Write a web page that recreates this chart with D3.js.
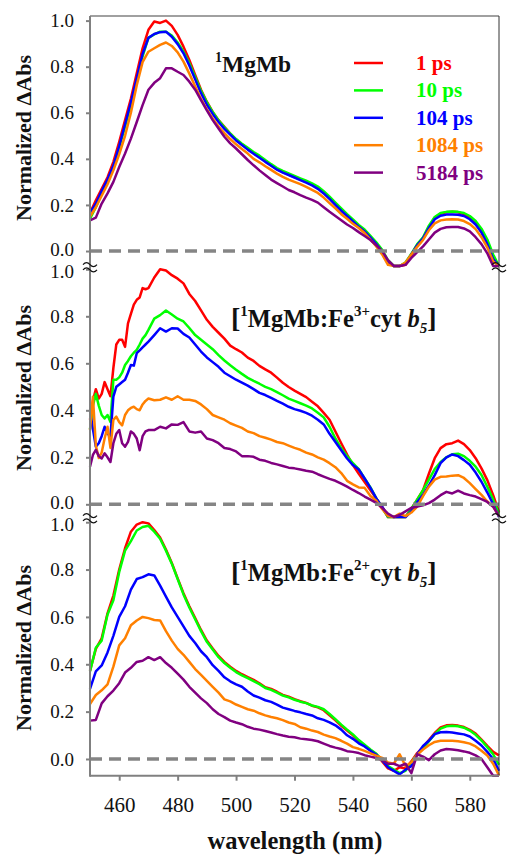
<!DOCTYPE html>
<html><head><meta charset="utf-8">
<script src="https://cdn.jsdelivr.net/npm/d3@7"></script>
<style>body{margin:0;background:#fff}svg{display:block}</style>
</head><body><svg id="c" width="508" height="857"></svg>
<script>
// ---------- data ----------
const times = ["1 ps","10 ps","104 ps","1084 ps","5184 ps"];
const colors = ["#ff0000","#00ff00","#0000ff","#ff8000","#800080"];
const xTicks = [460,480,500,520,540,560,580];
const yTicks = [0,0.2,0.4,0.6,0.8,1.0];

const wlA = [450,452,454,456,458,460,462,464,466,468,470,472,474,476,478,480,482,484,486,488,490,492,494,496,498,500,502,504,506,508,510,512,514,516,518,520,522,524,526,528,530,532,534,536,538,540,542,544,546,548,550,552,554,556,558,560,562,564,566,568,570,572,574,576,578,580,582,584,586,588,590];
const wlB = [450,451,452,453,454,455,456,457,458,459,460,461,462,463,464,465,466,467,468,469,470,472,474,476,478,480,482,484,486,488,490,492,494,496,498,500,502,504,506,508,510,512,514,516,518,520,522,524,526,528,530,532,534,536,538,540,542,544,546,548,550,552,554,556,558,560,562,564,566,568,570,572,574,576,578,580,582,584,586,588,590];

// Panel 1: 1MgMb
const r1 = [0.165,0.22,0.27,0.32,0.387,0.474,0.568,0.662,0.771,0.88,
0.96,0.996,0.99,1.0,0.977,0.938,0.887,0.829,0.764,0.70,
0.648,0.604,0.568,0.539,0.51,0.484,0.463,0.445,0.425,0.41,
0.39,0.372,0.355,0.343,0.332,0.321,0.31,0.30,0.288,0.273,
0.252,0.228,0.202,0.177,0.153,0.13,0.105,0.085,0.058,0.03,
-0.005,-0.05,-0.09,-0.09,-0.06,-0.02,0.025,0.055,0.105,0.145,
0.162,0.168,0.17,0.168,0.16,0.145,0.12,0.085,0.035,-0.03,
-0.09];
const g1 = [0.14,0.19,0.25,0.30,0.365,0.45,0.54,0.635,0.74,0.845,
0.925,0.94,0.952,0.952,0.935,0.905,0.865,0.815,0.755,0.695,
0.645,0.603,0.567,0.537,0.51,0.486,0.466,0.448,0.43,0.414,
0.395,0.377,0.36,0.348,0.337,0.326,0.315,0.305,0.294,0.28,
0.26,0.236,0.21,0.185,0.16,0.137,0.113,0.093,0.066,0.038,
0.005,-0.04,-0.09,-0.09,-0.05,-0.012,0.03,0.06,0.11,0.148,
0.165,0.17,0.171,0.17,0.165,0.152,0.13,0.097,0.05,-0.015,
-0.08];
const b1 = [0.165,0.205,0.26,0.31,0.37,0.455,0.55,0.645,0.75,0.855,
0.925,0.942,0.95,0.952,0.93,0.898,0.858,0.805,0.745,0.685,
0.635,0.595,0.56,0.53,0.505,0.48,0.46,0.44,0.422,0.405,
0.387,0.37,0.353,0.34,0.33,0.319,0.308,0.297,0.285,0.27,
0.25,0.226,0.2,0.175,0.152,0.128,0.105,0.085,0.058,0.03,
-0.003,-0.045,-0.09,-0.09,-0.055,-0.015,0.025,0.055,0.1,0.138,
0.153,0.158,0.158,0.157,0.152,0.138,0.115,0.08,0.03,-0.035,
-0.09];
const o1 = [0.15,0.19,0.24,0.29,0.35,0.42,0.50,0.60,0.72,0.82,
0.865,0.88,0.895,0.905,0.89,0.862,0.822,0.77,0.715,0.66,
0.615,0.575,0.54,0.512,0.486,0.463,0.443,0.423,0.40,0.385,
0.368,0.352,0.336,0.322,0.31,0.3,0.29,0.278,0.265,0.252,
0.232,0.208,0.185,0.16,0.14,0.118,0.1,0.078,0.05,0.02,
-0.015,-0.06,-0.09,-0.09,-0.05,-0.015,0.018,0.048,0.09,0.12,
0.133,0.137,0.138,0.137,0.13,0.117,0.095,0.06,0.015,-0.045,
-0.09];
const p1 = [0.133,0.145,0.206,0.25,0.30,0.365,0.423,0.488,0.56,0.633,
0.70,0.73,0.75,0.793,0.793,0.778,0.764,0.735,0.70,0.655,
0.61,0.568,0.532,0.496,0.467,0.445,0.42,0.395,0.372,0.35,
0.33,0.31,0.295,0.28,0.265,0.255,0.243,0.232,0.222,0.21,
0.19,0.17,0.152,0.134,0.115,0.1,0.082,0.065,0.048,0.025,
0.0,-0.04,-0.09,-0.09,-0.06,-0.03,-0.005,0.02,0.05,0.08,
0.096,0.103,0.104,0.104,0.098,0.085,0.06,0.03,-0.01,-0.07,
-0.09];

// Panel 2: [1MgMb:Fe3+cyt b5]
const r2 = [0.36,0.44,0.49,0.45,0.47,0.52,0.49,0.46,0.58,0.68,0.70,0.70,0.67,0.77,0.81,0.85,0.87,0.88,0.92,0.915,0.92,
0.965,1.0,0.995,0.975,0.96,0.94,0.895,0.865,0.825,0.785,
0.755,0.73,0.705,0.675,0.66,0.646,0.624,0.61,0.589,0.574,
0.56,0.539,0.517,0.499,0.484,0.47,0.456,0.436,0.417,0.389,
0.36,0.31,0.26,0.212,0.167,0.13,0.095,0.06,0.025,-0.011,
-0.054,-0.09,-0.09,-0.06,-0.019,0.02,0.06,0.13,0.196,0.239,
0.256,0.26,0.271,0.256,0.231,0.196,0.153,0.103,0.039,-0.033];
const g2 = [0.32,0.42,0.47,0.42,0.38,0.365,0.38,0.35,0.53,0.53,0.54,0.56,0.593,0.61,0.63,0.645,0.657,0.68,0.705,0.72,0.742,
0.79,0.805,0.825,0.808,0.79,0.778,0.75,0.72,0.70,0.68,
0.66,0.635,0.612,0.592,0.573,0.555,0.538,0.525,0.513,0.50,
0.49,0.477,0.464,0.45,0.44,0.43,0.42,0.408,0.39,0.37,
0.33,0.28,0.238,0.205,0.175,0.15,0.11,0.072,0.025,-0.015,
-0.06,-0.09,-0.09,-0.06,-0.02,0.02,0.06,0.105,0.15,0.18,
0.2,0.213,0.215,0.205,0.185,0.16,0.125,0.075,0.02,-0.04];
const b2 = [0.40,0.32,0.245,0.26,0.29,0.33,0.30,0.29,0.458,0.50,0.51,0.52,0.53,0.56,0.593,0.59,0.643,0.655,0.668,0.68,0.692,
0.72,0.749,0.735,0.749,0.748,0.725,0.71,0.68,0.65,0.625,
0.605,0.585,0.56,0.545,0.53,0.518,0.505,0.49,0.474,0.465,
0.453,0.44,0.428,0.415,0.405,0.398,0.389,0.377,0.36,0.34,
0.30,0.265,0.23,0.195,0.167,0.148,0.11,0.07,0.025,-0.01,
-0.05,-0.09,-0.09,-0.09,-0.03,0.01,0.04,0.08,0.124,0.175,
0.2,0.212,0.205,0.188,0.168,0.135,0.096,0.05,0.0,-0.06];
const o2 = [0.316,0.458,0.25,0.197,0.22,0.28,0.33,0.24,0.359,0.373,0.35,0.336,0.38,0.40,0.41,0.415,0.405,0.40,0.425,0.44,0.45,
0.443,0.445,0.455,0.445,0.46,0.445,0.445,0.44,0.425,0.405,
0.38,0.37,0.36,0.345,0.335,0.325,0.31,0.303,0.29,0.283,
0.275,0.265,0.26,0.25,0.24,0.232,0.22,0.212,0.2,0.19,
0.175,0.158,0.133,0.10,0.085,0.072,0.07,0.035,0.015,-0.02,
-0.05,-0.06,-0.04,-0.05,-0.035,-0.01,0.035,0.075,0.105,0.117,
0.118,0.122,0.124,0.112,0.09,0.065,0.04,0.012,-0.01,-0.05];
const p2 = [0.16,0.21,0.232,0.205,0.195,0.217,0.2,0.18,0.26,0.30,0.316,0.26,0.245,0.266,0.31,0.30,0.28,0.23,0.29,0.31,0.316,
0.316,0.33,0.323,0.34,0.338,0.35,0.31,0.305,0.31,0.28,
0.273,0.26,0.24,0.235,0.225,0.205,0.205,0.202,0.19,0.185,
0.176,0.17,0.163,0.156,0.153,0.148,0.143,0.139,0.128,0.118,
0.108,0.1,0.088,0.075,0.061,0.048,0.033,0.02,0.006,-0.015,
-0.04,-0.06,-0.045,-0.03,-0.015,-0.01,-0.004,0.005,0.02,0.039,
0.053,0.046,0.058,0.046,0.039,0.033,0.022,0.01,-0.01,-0.05];

// Panel 3: [1MgMb:Fe2+cyt b5]
const r3 = [0.373,0.465,0.51,0.615,0.69,0.80,0.89,0.96,0.99,1.0,
0.995,0.967,0.935,0.885,0.828,0.763,0.70,0.645,0.595,0.545,
0.50,0.467,0.435,0.41,0.39,0.372,0.358,0.346,0.334,0.32,
0.303,0.296,0.284,0.271,0.263,0.253,0.244,0.237,0.225,0.218,
0.206,0.184,0.163,0.14,0.12,0.10,0.076,0.056,0.037,0.02,
-0.01,-0.04,-0.05,-0.035,-0.04,-0.01,0.025,0.05,0.08,0.11,
0.133,0.142,0.144,0.141,0.135,0.123,0.107,0.082,0.055,0.03,
0.015];
const g3 = [0.37,0.47,0.50,0.61,0.67,0.79,0.88,0.92,0.965,0.98,
0.985,0.96,0.93,0.88,0.825,0.76,0.695,0.64,0.59,0.54,
0.495,0.462,0.43,0.405,0.385,0.367,0.353,0.341,0.329,0.316,
0.3,0.292,0.28,0.268,0.26,0.25,0.242,0.236,0.226,0.22,
0.21,0.19,0.168,0.145,0.124,0.104,0.08,0.06,0.04,0.022,
-0.005,-0.03,-0.045,-0.06,-0.05,-0.015,0.02,0.045,0.075,0.105,
0.128,0.138,0.14,0.138,0.132,0.12,0.102,0.078,0.05,0.02,
-0.025];
const b3 = [0.296,0.37,0.395,0.45,0.52,0.60,0.645,0.715,0.76,0.768,
0.78,0.775,0.732,0.686,0.64,0.60,0.56,0.52,0.49,0.455,
0.43,0.396,0.372,0.345,0.328,0.315,0.305,0.285,0.268,0.259,
0.248,0.241,0.23,0.217,0.21,0.203,0.197,0.19,0.184,0.172,
0.165,0.155,0.142,0.124,0.10,0.085,0.066,0.053,0.035,0.018,
-0.005,-0.035,-0.05,-0.065,-0.045,-0.03,0.02,0.055,0.077,0.105,
0.113,0.114,0.112,0.108,0.104,0.095,0.077,0.057,0.03,0.0,
-0.05];
const o3 = [0.232,0.27,0.29,0.315,0.39,0.48,0.51,0.565,0.585,0.6,
0.595,0.587,0.585,0.54,0.50,0.465,0.44,0.41,0.38,0.355,
0.33,0.305,0.28,0.252,0.243,0.23,0.22,0.21,0.204,0.193,
0.184,0.177,0.172,0.164,0.154,0.148,0.134,0.128,0.12,0.114,
0.103,0.095,0.088,0.077,0.065,0.05,0.043,0.034,0.024,0.014,
0.005,-0.015,-0.02,0.02,-0.03,-0.015,0.018,0.04,0.058,0.072,
0.077,0.077,0.077,0.075,0.071,0.065,0.053,0.035,0.015,-0.02,
-0.07];
const p3 = [0.162,0.165,0.235,0.265,0.289,0.32,0.365,0.385,0.41,0.415,
0.43,0.418,0.43,0.405,0.385,0.36,0.335,0.305,0.28,0.256,
0.236,0.21,0.19,0.177,0.162,0.154,0.147,0.136,0.128,0.124,
0.118,0.112,0.105,0.099,0.094,0.092,0.086,0.083,0.08,0.075,
0.065,0.055,0.048,0.042,0.033,0.03,0.025,0.016,0.01,0.004,
-0.005,-0.02,-0.02,-0.03,-0.02,-0.06,0.02,0.01,-0.005,0.02,
0.036,0.042,0.04,0.037,0.032,0.026,0.015,0.0,-0.035,-0.075,
-0.09];

// ---------- font ----------
const FONT = "'Liberation Serif','Times New Roman',serif";

// ---------- layout ----------
const svg = d3.select("#c");
const X0 = 90, X1 = 499, TOP = 16, BOT = 775.7;
const x = d3.scaleLinear().domain([450,590]).range([X0, X1]);

const panels = [
  {wl: wlA, series: [r1,g1,b1,o1,p1], top: 16,  bottom: 266, dom: [-0.065, 1.02], yc: 138},
  {wl: wlB, series: [r2,g2,b2,o2,p2], top: 266, bottom: 517, dom: [-0.054, 1.014], yc: 388},
  {wl: wlA, series: [r3,g3,b3,o3,p3], top: 517, bottom: BOT, dom: [-0.0706, 1.022], yc: 648}
];

panels.forEach((p, pi) => {
  const y = d3.scaleLinear().domain(p.dom).range([p.bottom, p.top]).clamp(true);
  const g = svg.append("g");
  const line = d3.line().x(d => x(d[0])).y(d => y(d[1]));
  p.series.forEach((s, si) => {
    g.append("path")
      .attr("d", line(d3.zip(p.wl, s)))
      .attr("fill", "none")
      .attr("stroke", colors[si])
      .attr("stroke-width", 2.5)
      .attr("stroke-linejoin", "round");
  });
  g.append("line")
    .attr("x1", X0).attr("x2", X1)
    .attr("y1", y(0)).attr("y2", y(0))
    .attr("stroke", "#858585").attr("stroke-width", 3.5)
    .attr("stroke-dasharray", "12,7");
  const ax = svg.append("g").attr("transform", `translate(${X0},0)`)
    .call(d3.axisLeft(y).tickValues(yTicks).tickFormat(d3.format(".1f")).tickSize(4).tickPadding(12));
  ax.select(".domain").remove();
  ax.attr("font-family", FONT).attr("font-size", 19);
  ax.selectAll(".tick line").attr("stroke", "#808080").attr("stroke-width", 2);
  ax.selectAll(".tick text").attr("fill", "#111")
    .attr("dy", d => d === 0 && pi < 2 ? "0.22em" : (d === 1 && pi > 0 ? "0.42em" : "0.32em"));
  svg.append("text")
    .attr("transform", `translate(31,${p.yc}) rotate(-90)`)
    .attr("text-anchor", "middle")
    .attr("font-family", FONT).attr("font-weight", "bold").attr("font-size", 22)
    .attr("fill", "#111")
    .text("Normalized \u0394Abs");
});

// frame
svg.append("line").attr("x1", X0).attr("x2", X1).attr("y1", TOP).attr("y2", TOP)
  .attr("stroke", "#808080").attr("stroke-width", 1.5);
svg.append("line").attr("x1", X1).attr("x2", X1).attr("y1", TOP).attr("y2", BOT)
  .attr("stroke", "#333").attr("stroke-width", 1);
svg.append("line").attr("x1", X0).attr("x2", X0).attr("y1", TOP).attr("y2", BOT + 1)
  .attr("stroke", "#808080").attr("stroke-width", 2);
svg.append("line").attr("x1", X0).attr("x2", X1).attr("y1", BOT).attr("y2", BOT)
  .attr("stroke", "#808080").attr("stroke-width", 2);

// x axis
const xa = svg.append("g").attr("transform", `translate(0,${BOT})`)
  .call(d3.axisBottom(x).tickValues(xTicks).tickSize(5).tickPadding(16));
xa.select(".domain").remove();
xa.attr("font-family", FONT).attr("font-size", 21);
xa.selectAll(".tick line").attr("stroke", "#808080").attr("stroke-width", 2);
xa.selectAll(".tick text").attr("fill", "#111");
svg.append("text").attr("x", 295).attr("y", 849).attr("text-anchor", "middle")
  .attr("font-family", FONT).attr("font-weight", "bold").attr("font-size", 24.5).attr("fill", "#111")
  .text("wavelength (nm)");

// break marks
[266, 517].forEach(by => {
  [X0, X1].forEach(bx => {
    [-2.6, 2.6].forEach(off => {
      const yy = by + off;
      svg.append("path")
        .attr("d", `M${bx-7},${yy+1.2} q3.5,-4 7,0 t7,0`)
        .attr("fill", "none").attr("stroke", "#111").attr("stroke-width", 1.2);
    });
  });
});

// legend
times.forEach((t, i) => {
  const ly = 63 + i * 27.4;
  svg.append("line").attr("x1", 354).attr("x2", 383).attr("y1", ly).attr("y2", ly)
    .attr("stroke", colors[i]).attr("stroke-width", 2.5);
  svg.append("text").attr("x", 416).attr("y", ly + 7)
    .attr("font-family", FONT).attr("font-weight", "bold").attr("font-size", 21)
    .attr("fill", colors[i]).text(t);
});

// titles
const t1 = svg.append("text").attr("x", 215).attr("y", 71.5)
  .attr("font-family", FONT).attr("font-weight", "bold").attr("fill", "#111");
t1.append("tspan").attr("font-size", 14).attr("dy", -10).text("1");
t1.append("tspan").attr("font-size", 23.5).attr("dy", 10).text("MgMb");

function complexTitle(yb, charge) {
  const t = svg.append("text").attr("x", 231).attr("y", yb)
    .attr("font-family", FONT).attr("font-weight", "bold").attr("fill", "#111");
  t.append("tspan").attr("font-size", 28).text("[");
  t.append("tspan").attr("font-size", 15).attr("dy", -11).text("1");
  t.append("tspan").attr("font-size", 24.5).attr("dy", 11).text("MgMb:Fe");
  t.append("tspan").attr("font-size", 15).attr("dy", -11).text(charge);
  t.append("tspan").attr("font-size", 24.5).attr("dy", 11).text("cyt ");
  t.append("tspan").attr("font-size", 24.5).attr("font-style", "italic").text("b");
  t.append("tspan").attr("font-size", 15).attr("font-style", "italic").attr("dy", 6).text("5");
  t.append("tspan").attr("font-size", 28).attr("dy", -6).text("]");
}
complexTitle(327, "3+");
complexTitle(581, "2+");
</script></body></html>
